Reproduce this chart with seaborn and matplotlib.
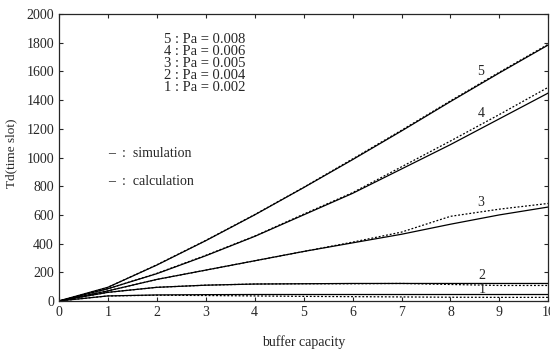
import numpy as np
import pandas as pd
import matplotlib
matplotlib.use("Agg")
import matplotlib.pyplot as plt
import seaborn as sns

buffer = [0, 1, 2, 3, 4, 5, 6, 7, 8, 9, 10]
curve_ids = ["5", "4", "3", "2", "1"]
pa_values = ["0.008", "0.006", "0.005", "0.004", "0.002"]

calc_5 = [0, 95, 250, 420, 600, 790, 985, 1185, 1390, 1590, 1785]
sim_5 = [0, 95, 252, 422, 602, 792, 990, 1190, 1395, 1595, 1790]
calc_4 = [0, 85, 190, 315, 450, 600, 750, 920, 1090, 1270, 1450]
sim_4 = [0, 85, 192, 318, 452, 605, 755, 935, 1115, 1300, 1490]
calc_3 = [0, 70, 150, 215, 280, 345, 405, 465, 535, 600, 655]
sim_3 = [0, 70, 150, 215, 280, 345, 410, 480, 590, 640, 680]
calc_2 = [0, 60, 95, 110, 118, 120, 122, 122, 122, 122, 122]
sim_2 = [0, 60, 95, 110, 118, 120, 120, 122, 115, 108, 108]
calc_1 = [0, 35, 42, 44, 45, 45, 45, 45, 45, 45, 45]
sim_1 = [0, 35, 40, 38, 35, 32, 30, 28, 26, 25, 25]

calc = {"5": calc_5, "4": calc_4, "3": calc_3, "2": calc_2, "1": calc_1}
sim = {"5": sim_5, "4": sim_4, "3": sim_3, "2": sim_2, "1": sim_1}

# curve label positions (buffer, Td)
label_pos = {"5": (8.62, 1600), "4": (8.62, 1310), "3": (8.62, 685),
             "2": (8.65, 180), "1": (8.65, 78)}

sns.set_style("ticks")
plt.rcParams["font.family"] = ["Liberation Serif", "DejaVu Serif"]

fig = plt.figure(figsize=(5.5, 3.52), dpi=100)
ax = fig.add_axes([0.107, 0.145, 0.89, 0.815])

for cid in curve_ids:
    sns.lineplot(x=buffer, y=calc[cid], ax=ax, color="black", lw=0.9)
    sns.lineplot(x=buffer, y=sim[cid], ax=ax, color="black", lw=0.9,
                 linestyle=(0, (1.5, 1.5)))
    ax.text(*label_pos[cid], cid, fontsize=10, ha="center", va="center")

for i, (cid, pa) in enumerate(zip(curve_ids, pa_values)):
    ax.text(2.14, 1825 - i * 84, f"{cid} : Pa = {pa}", fontsize=10.5, va="center")

ax.text(1.0, 1030, "–  :  simulation", fontsize=10, va="center")
ax.text(1.0, 830, "–  :  calculation", fontsize=10, va="center")

ax.set_xlim(0, 10)
ax.set_ylim(0, 2000)
ax.set_xticks(range(0, 11))
ax.set_yticks(range(0, 2001, 200))
ax.tick_params(direction="in", top=True, right=True, labelsize=10, length=3, width=0.8)
for s in ax.spines.values():
    s.set_linewidth(0.9)

ax.set_xlabel("buffer capacity", fontsize=10, labelpad=12)
ax.set_ylabel("Td(time slot)", fontsize=9.5)
ax.yaxis.set_label_coords(-0.085, 0.516)

fig.savefig("out.png", dpi=100)
